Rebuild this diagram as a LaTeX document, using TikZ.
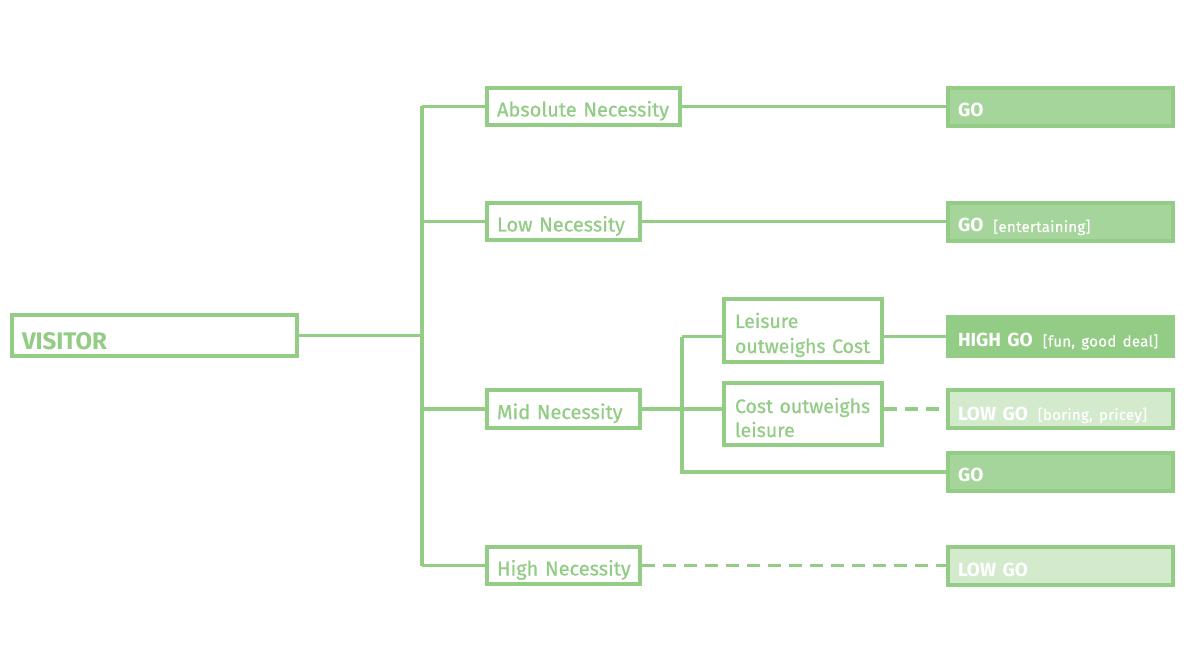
\documentclass[tikz,border=0pt]{standalone}
\usepackage{fontspec}
\setmainfont{Fira Sans}
\definecolor{lg}{HTML}{92CC85}
\definecolor{gofill}{HTML}{A5D59A}
\definecolor{lowfill}{HTML}{D3EBCC}
\newcommand{\tagtxt}[1]{\hspace{10pt}{\fontsize{15}{17}\selectfont\mdseries\addfontfeature{LetterSpace=2,FakeBold=0.4}[#1]}}
\newcommand{\bl}[2]{\raisebox{#1}[0pt][0pt]{#2}}
\newcommand{\twol}[3]{\raisebox{#1}[0pt][0pt]{\parbox[b]{150pt}{\baselineskip=#2#3}}}
\begin{document}
\begin{tikzpicture}[x=1pt,y=-1pt,
  conn/.style={draw=lg,line width=3.5pt},
  dconn/.style={conn,dash pattern=on 13pt off 8pt},
  wbox/.style={draw=lg,line width=4pt,fill=white,inner xsep=10pt,inner ysep=0pt,align=left,text=lg,font=\fontsize{20}{23}\selectfont\addfontfeature{FakeBold=0.6}},
  gbox/.style={draw=lg,line width=4pt,fill=gofill,inner xsep=10pt,inner ysep=0pt,align=left,text=white,font=\fontsize{19}{21}\selectfont,minimum width=225pt,text width=205pt},
]
\useasboundingbox (0,0) rectangle (1188,668);
% left side
\node[wbox,minimum width=285pt,minimum height=41pt,text width=265pt,font=\fontsize{24}{26}\selectfont\bfseries] (visitor) at (154.5,335.5) {\bl{-14pt}{VISITOR}};
\node[wbox,minimum width=193pt,minimum height=37pt,text width=173pt] (abs) at (583.5,106.5) {\bl{-10pt}{Absolute Necessity}};
\node[wbox,minimum width=153pt,minimum height=37pt,text width=133pt] (low) at (563.5,221.5) {\bl{-10pt}{Low Necessity}};
\node[wbox,minimum width=153pt,minimum height=38pt,text width=133pt] (mid) at (563.5,409) {\bl{-10pt}{Mid Necessity}};
\node[wbox,minimum width=153pt,minimum height=37pt,text width=133pt] (high) at (563.5,565.5) {\bl{-10pt}{High Necessity}};
\node[wbox,minimum width=158pt,minimum height=63pt,text width=136pt,inner xsep=11pt,font=\fontsize{19.5}{25}\selectfont\addfontfeature{FakeBold=0.6}] (leis) at (803,330.5) {\twol{-22.5pt}{25pt}{Leisure\\outweighs Cost}};
\node[wbox,minimum width=158pt,minimum height=62pt,text width=136pt,inner xsep=11pt,font=\fontsize{19.5}{24}\selectfont\addfontfeature{FakeBold=0.6}] (cost) at (803,414) {\twol{-23pt}{24pt}{Cost outweighs\\leisure}};
% right side
\node[gbox,minimum height=38pt] (go1) at (1060.5,107) {\bl{-10pt}{\textbf{GO}}};
\node[gbox,minimum height=38pt] (go2) at (1060.5,222) {\bl{-10pt}{\textbf{GO}\tagtxt{entertaining}}};
\node[gbox,fill=lg,minimum height=39pt] (hgo) at (1060.5,336.5) {\bl{-10pt}{\textbf{HIGH GO}\tagtxt{fun, good deal}}};
\node[gbox,fill=lowfill,minimum height=38pt] (lgo) at (1060.5,409) {\bl{-11pt}{\textbf{LOW GO}\tagtxt{boring, pricey}}};
\node[gbox,minimum height=38pt] (go3) at (1060.5,472) {\bl{-9pt}{\textbf{GO}}};
\node[gbox,fill=lowfill,minimum height=38pt] (lgo2) at (1060.5,566) {\bl{-10pt}{\textbf{LOW GO}}};
% trunk coordinates
\coordinate (tr) at (422,0);
\coordinate (mr) at (682,0);
\draw[conn] (tr |- abs.west) -- (tr |- high.west);
\draw[conn] (visitor.east) -- (visitor.east -| tr);
\draw[conn] (tr |- abs.west) -- (abs.west);
\draw[conn] (tr |- low.west) -- (low.west);
\draw[conn] (tr |- mid.west) -- (mid.west);
\draw[conn] (tr |- high.west) -- (high.west);
\draw[conn] (abs.east) -- (abs.east -| go1.west);
\draw[conn] (low.east) -- (low.east -| go2.west);
\draw[dconn] (high.east) -- (high.east -| lgo2.west);
% mid branch
\draw[conn] (mid.east) -- (mid.east -| cost.west);
\draw[conn] (mr |- hgo.west) -- (mr |- go3.west) -- (go3.west);
\draw[conn] (mr |- hgo.west) -- (leis.west |- hgo.west);
\draw[conn] (leis.east |- hgo.west) -- (hgo.west);
\draw[dconn] (cost.east |- lgo.west) -- (lgo.west);
\end{tikzpicture}
\end{document}
